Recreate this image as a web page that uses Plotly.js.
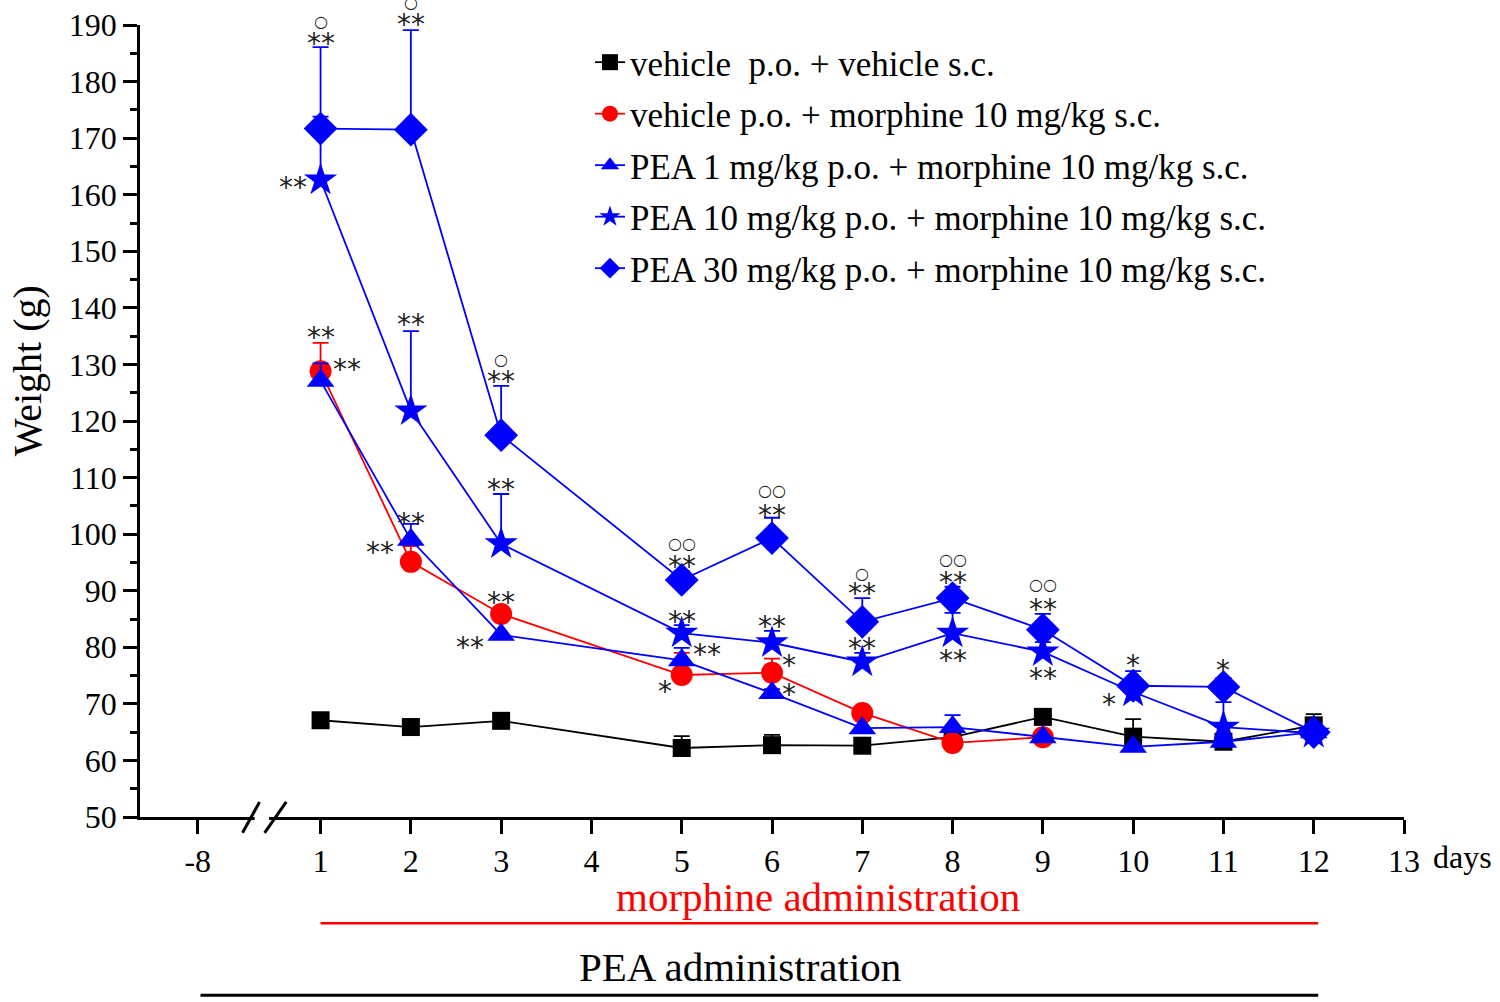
<!DOCTYPE html>
<html>
<head>
<meta charset="utf-8">
<script src="https://cdn.plot.ly/plotly-3.0.1.min.js"></script>
<style>body{margin:0;background:#fff}</style>
</head>
<body>
<div id="myDiv" style="width:1500px;height:1002px"></div>
<script>
// days of treatment (no measurement on day 4)
var days = [1, 2, 3, 5, 6, 7, 8, 9, 10, 11, 12];
var daysRed = [1, 2, 3, 5, 6, 7, 8, 9];

// mean weight (g) and upper error (SEM) per group
var vehVeh = [67.1, 65.9, 67.0, 62.2, 62.7, 62.6, 64.1, 67.7, 64.2, 63.3, 66.2];
var vehVehErr = [0, 0, 0, 2.1, 1.8, 0, 0, 0, 3.1, 0, 2.0];
var vehMor = [128.8, 95.1, 85.9, 75.1, 75.5, 68.4, 63.1, 64.1];
var vehMorErr = [5.0, 2.8, 0.7, 3.9, 2.5, 0, 2.3, 0];
var pea1 = [127.1, 99.0, 82.2, 77.7, 71.9, 65.7, 65.9, 64.1, 62.4, 63.3, 65.0];
var pea1Err = [3.1, 2.8, 0, 2.2, 0.7, 0, 2.1, 0, 0, 0, 0];
var pea10 = [162.6, 121.8, 98.3, 82.5, 80.8, 77.4, 82.5, 79.2, 72.1, 65.9, 64.8];
var pea10Err = [11.2, 14.1, 8.8, 1.4, 2.1, 1.6, 3.6, 1.7, 0, 4.4, 0];
var pea30 = [171.7, 171.5, 117.5, 91.9, 99.3, 84.5, 88.7, 83.1, 73.2, 73.0, 65.0];
var pea30Err = [14.4, 17.6, 8.7, 1.6, 3.6, 4.2, 2.0, 2.8, 2.6, 1.6, 0];

// x tick labels (axis is broken between -8 and 1)
var tickPos = [-0.36, 1, 2, 3, 4, 5, 6, 7, 8, 9, 10, 11, 12, 13];
var tickText = ['-8', '1', '2', '3', '4', '5', '6', '7', '8', '9', '10', '11', '12', '13'];

// significance marks
var sigText = ['**', '**', '**', '**', '**', '**', '**', '**', '**', '**', '**', '**', '**', '**', '**', '*', '**', '**', '*', '*', '**', '**', '**', '**', '**', '**', '*', '*', '*'];
var sigX = [1, 2, 0.69, 1, 1.29, 2, 3, 2, 1.66, 3, 3, 2.66, 5, 5, 5.28, 4.81, 6, 6, 6.19, 6.19, 7, 7, 8, 8, 9, 9, 10, 9.73, 11];
var sigY = [187.8, 191.2, 162.4, 135.8, 130.2, 138.2, 128.0, 103.0, 97.9, 109.0, 88.9, 81.1, 95.3, 85.7, 79.7, 73.3, 104.3, 84.8, 77.9, 72.8, 90.5, 80.8, 92.6, 78.8, 87.7, 75.5, 77.8, 70.9, 77.0];
var ringText = ['○', '○', '○', '○○', '○○', '○', '○○', '○○'];
var ringX = [1, 2, 3, 5, 6, 7, 8, 9];
var ringY = [190.1, 193.4, 130.4, 97.9, 107.1, 92.6, 94.9, 90.5];

var yMin = 50, yMax = 190;
var pxPerUnit = 792 / (yMax - yMin);

function errUp(arr, color) {
    return {
        type: 'data',
        symmetric: false,
        array: arr,
        arrayminus: arr.map(function () { return 0; }),
        color: color,
        thickness: 1.8,
        width: 8
    };
}

function series(x, y, err, name, color, symbol, size) {
    return {
        x: x,
        y: y,
        name: name,
        legendgroup: name,
        type: 'scatter',
        mode: 'lines+markers',
        line: {color: color, width: 1.8},
        marker: {color: color, symbol: symbol, size: size},
        error_y: errUp(err, color),
        cliponaxis: false
    };
}

var data = [
    series(days, vehVeh, vehVehErr, 'vehicle  p.o. + vehicle s.c.', '#000000', 'square', 18),
    series(daysRed, vehMor, vehMorErr, 'vehicle p.o. + morphine 10 mg/kg s.c.', '#ff0000', 'circle', 22),
    series(days, pea1, pea1Err, 'PEA 1 mg/kg p.o. + morphine 10 mg/kg s.c.', '#0000ff', 'triangle-up', 24),
    series(days, pea10, pea10Err, 'PEA 10 mg/kg p.o. + morphine 10 mg/kg s.c.', '#0000ff', 'star', 25),
    series(days, pea30, pea30Err, 'PEA 30 mg/kg p.o. + morphine 10 mg/kg s.c.', '#0000ff', 'diamond', 26)
];

// annotations above the y range are not drawn, so pin them to the top and shift in pixels
function markNote(x, y, text, size, shift) {
    var yIn = Math.min(y, yMax - 0.1);
    return {
        x: x, y: yIn, xref: 'x', yref: 'y', text: text, showarrow: false,
        yshift: (y - yIn) * pxPerUnit + shift,
        font: {family: 'DejaVu Sans', size: size, color: '#222'}
    };
}

var annotations = [];
for (var i = 0; i < sigText.length; i++) {
    annotations.push(markNote(sigX[i], sigY[i], sigText[i], 28, -6));
}
for (var j = 0; j < ringText.length; j++) {
    annotations.push(markNote(ringX[j], ringY[j], ringText[j], 16, 3));
}
annotations.push({
    x: 1.046, y: -0.0505, xref: 'paper', yref: 'paper', xanchor: 'center', yanchor: 'middle',
    text: 'days', showarrow: false,
    font: {family: 'Liberation Serif', size: 32, color: '#000'}
});
annotations.push({
    x: 6.51, y: -0.101, xref: 'x', yref: 'paper', xanchor: 'center', yanchor: 'middle',
    text: 'morphine administration', showarrow: false,
    font: {family: 'Liberation Serif', size: 41, color: '#ff0000'}
});
annotations.push({
    x: 5.64, y: -0.19, xref: 'x', yref: 'paper', xanchor: 'center', yanchor: 'middle',
    text: 'PEA administration', showarrow: false,
    font: {family: 'Liberation Serif', size: 41, color: '#000'}
});
annotations.push({
    x: -0.0894, y: 0.564, xref: 'paper', yref: 'paper', xanchor: 'center', yanchor: 'middle',
    textangle: -90, text: 'Weight (g)', showarrow: false,
    font: {family: 'Liberation Serif', size: 40, color: '#000'}
});

var shapes = [
    // administration bars under the axis
    {type: 'line', xref: 'x', yref: 'paper', x0: 1, x1: 12.05, y0: -0.134, y1: -0.134,
        line: {color: '#ff0000', width: 2.5}},
    {type: 'line', xref: 'x', yref: 'paper', x0: -0.33, x1: 12.05, y0: -0.225, y1: -0.225,
        line: {color: '#000', width: 3}},
    // axis break
    {type: 'rect', xref: 'x', yref: 'paper', x0: 0.27, x1: 0.43, y0: -0.006, y1: 0.006,
        fillcolor: '#fff', line: {width: 0}, layer: 'above'},
    {type: 'line', xref: 'x', yref: 'paper', x0: 0.136, x1: 0.324, y0: -0.02, y1: 0.019,
        line: {color: '#000', width: 3}, layer: 'above'},
    {type: 'line', xref: 'x', yref: 'paper', x0: 0.38, x1: 0.62, y0: -0.02, y1: 0.019,
        line: {color: '#000', width: 3}, layer: 'above'}
];

var layout = {
    width: 1500,
    height: 1002,
    margin: {l: 140, r: 96, t: 25, b: 185},
    paper_bgcolor: '#fff',
    plot_bgcolor: '#fff',
    font: {family: 'Liberation Serif', color: '#000'},
    showlegend: true,
    legend: {
        x: 0.356, y: 0.99, xanchor: 'left', yanchor: 'top',
        font: {family: 'Liberation Serif', size: 35, color: '#000'},
        bgcolor: 'rgba(0,0,0,0)',
        tracegroupgap: 3
    },
    xaxis: {
        range: [-1, 13],
        tickvals: tickPos,
        ticktext: tickText,
        ticks: 'outside',
        ticklen: 14,
        tickwidth: 2.5,
        tickcolor: '#000',
        showline: true,
        linecolor: '#000',
        linewidth: 2.5,
        showgrid: false,
        zeroline: false,
        tickfont: {family: 'Liberation Serif', size: 32, color: '#000'}
    },
    yaxis: {
        range: [yMin, yMax],
        dtick: 10,
        ticks: 'outside',
        ticklen: 14,
        tickwidth: 2.5,
        tickcolor: '#000',
        minor: {dtick: 5, ticks: 'outside', ticklen: 7, tickwidth: 2.5, tickcolor: '#000'},
        showline: true,
        linecolor: '#000',
        linewidth: 2.5,
        showgrid: false,
        zeroline: false,
        tickfont: {family: 'Liberation Serif', size: 32, color: '#000'}
    },
    annotations: annotations,
    shapes: shapes
};

var config = {
    displayModeBar: false,
    responsive: false
};

Plotly.newPlot('myDiv', data, layout, config);
</script>
</body>
</html>
